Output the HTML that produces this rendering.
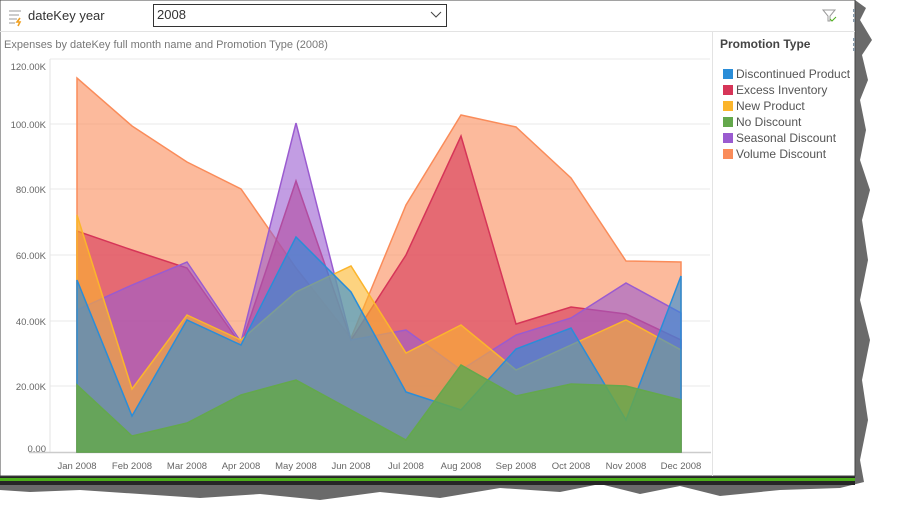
<!DOCTYPE html>
<html><head><style>
body{margin:0;width:901px;height:522px;background:#fff;overflow:hidden;font-family:"Liberation Sans",sans-serif;position:relative}
</style></head><body>
<svg width="901" height="522" style="position:absolute;left:0;top:0" font-family="Liberation Sans, sans-serif">
<!-- shadow / torn edge -->
<path d="M855,0 L866,8 L860,20 L872,40 L862,55 L868,80 L860,100 L866,130 L860,160 L870,190 L862,220 L868,260 L860,300 L870,340 L862,380 L868,420 L860,460 L864,482 L840,488 L780,490 L720,496 L680,486 L640,494 L600,484 L560,492 L500,488 L440,498 L380,492 L320,500 L260,494 L200,498 L140,494 L80,490 L30,492 L0,490 L0,478 L855,478 Z" fill="#6a6a6a"/>
<rect x="0" y="476" width="855" height="9" fill="#262626"/>
<rect x="0" y="478" width="855" height="3" fill="#4caf1a"/>
<rect x="0" y="0" width="855" height="476" fill="#fff" stroke="#444" stroke-width="1"/>
<!-- header -->
<line x1="0" y1="31.5" x2="855" y2="31.5" stroke="#e3e3e3"/>
<g stroke="#aaa" stroke-width="1.2"><line x1="9" y1="11" x2="21" y2="11"/><line x1="9" y1="15" x2="19" y2="15"/><line x1="9" y1="19" x2="17" y2="19"/><line x1="9" y1="23" x2="15" y2="23"/></g>
<path d="M20,18 L17,22 L20,22 L18,26" stroke="#f0a020" stroke-width="1.6" fill="none"/>
<text x="28" y="20" font-size="13" fill="#333">dateKey year</text>
<rect x="153.5" y="4.5" width="293" height="22" fill="#fff" stroke="#333"/>
<text x="157" y="19" font-size="13" fill="#333">2008</text>
<path d="M431,12 L436,17 L441,12" stroke="#444" fill="none"/>
<path d="M823,10 L835,10 L830,16 L830,21 L828,21 L828,16 Z" stroke="#999" fill="none"/>
<path d="M830,19 L832,21 L836,17" stroke="#4caf1a" fill="none"/>
<g fill="#8a9aa8"><rect x="853" y="9" width="2" height="3"/><rect x="853" y="14" width="2" height="3"/><rect x="853" y="19" width="2" height="3"/></g>
<line x1="712.5" y1="32" x2="712.5" y2="476" stroke="#e3e3e3"/>
<text x="4" y="48" font-size="11" fill="#777">Expenses by dateKey full month name and Promotion Type (2008)</text>
<!-- legend -->
<text x="720" y="48" font-size="12" font-weight="bold" fill="#444">Promotion Type</text>
<g fill="#8a9aa8"><rect x="853" y="38" width="2" height="3"/><rect x="853" y="43" width="2" height="3"/><rect x="853" y="48" width="2" height="3"/></g>
<g font-size="12" fill="#555">
<rect x="723" y="69" width="10" height="10" fill="#2a8dd8"/><text x="736" y="78">Discontinued Product</text>
<rect x="723" y="85" width="10" height="10" fill="#d63558"/><text x="736" y="94">Excess Inventory</text>
<rect x="723" y="101" width="10" height="10" fill="#fbb52c"/><text x="736" y="110">New Product</text>
<rect x="723" y="117" width="10" height="10" fill="#64a84c"/><text x="736" y="126">No Discount</text>
<rect x="723" y="133" width="10" height="10" fill="#9a5bd0"/><text x="736" y="142">Seasonal Discount</text>
<rect x="723" y="149" width="10" height="10" fill="#fa8c5a"/><text x="736" y="158">Volume Discount</text>
</g>
<!-- grid -->
<g stroke="#eaeaea"><line x1="50" y1="59" x2="710" y2="59"/><line x1="50" y1="124" x2="710" y2="124"/><line x1="50" y1="189" x2="710" y2="189"/><line x1="50" y1="255" x2="710" y2="255"/><line x1="50" y1="321" x2="710" y2="321"/><line x1="50" y1="386" x2="710" y2="386"/></g>
<line x1="50" y1="59" x2="50" y2="452" stroke="#e3e3e3"/>
<line x1="29" y1="452.5" x2="711" y2="452.5" stroke="#ccc" stroke-width="1.5"/>
<g font-size="9.5" fill="#666" text-anchor="end">
<text x="46" y="70">120.00K</text><text x="46" y="128">100.00K</text><text x="46" y="193">80.00K</text><text x="46" y="259">60.00K</text><text x="46" y="325">40.00K</text><text x="46" y="390">20.00K</text><text x="46" y="452">0.00</text>
</g>
<g font-size="9.5" fill="#666" text-anchor="middle">
<text x="77" y="469">Jan 2008</text><text x="132" y="469">Feb 2008</text><text x="187" y="469">Mar 2008</text><text x="241" y="469">Apr 2008</text><text x="296" y="469">May 2008</text><text x="351" y="469">Jun 2008</text><text x="406" y="469">Jul 2008</text><text x="461" y="469">Aug 2008</text><text x="516" y="469">Sep 2008</text><text x="571" y="469">Oct 2008</text><text x="626" y="469">Nov 2008</text><text x="681" y="469">Dec 2008</text>
</g>
<!-- series -->
<g stroke-width="1.5" fill-opacity="0.6">
<polygon fill="#fa8c5a" stroke="#fa8c5a" points="77,452 77,78 132,126 187,162 241,189 296,268 351,338 406,205 461,115 516,127 571,178 626,261 681,262 681,452"/>
<polygon fill="#d63558" stroke="#d63558" points="77,452 77,231 132,250 187,268 241,345 296,181 351,340 406,255 461,136 516,324 571,307 626,314 681,340 681,452"/>
<polygon fill="#9a5bd0" stroke="#9a5bd0" points="77,452 77,310 132,285 187,262 241,342 296,123 351,340 406,330 461,370 516,335 571,318 626,283 681,313 681,452"/>
<polygon fill="#fbb52c" stroke="#fbb52c" points="77,452 77,215 132,389 187,315 241,340 296,292 351,266 406,353 461,325 516,370 571,345 626,320 681,350 681,452"/>
<polygon fill="#2a8dd8" stroke="#2a8dd8" points="77,452 77,280 132,416 187,320 241,345 296,237 351,292 406,392 461,410 516,349 571,328 626,420 681,276 681,452"/>
<polygon fill="#64a84c" stroke="#64a84c" fill-opacity="0.85" points="77,452 77,385 132,436 187,423 241,395 296,380 351,410 406,440 461,365 516,396 571,384 626,386 681,400 681,452"/>
</g>
</svg>
</body></html>
